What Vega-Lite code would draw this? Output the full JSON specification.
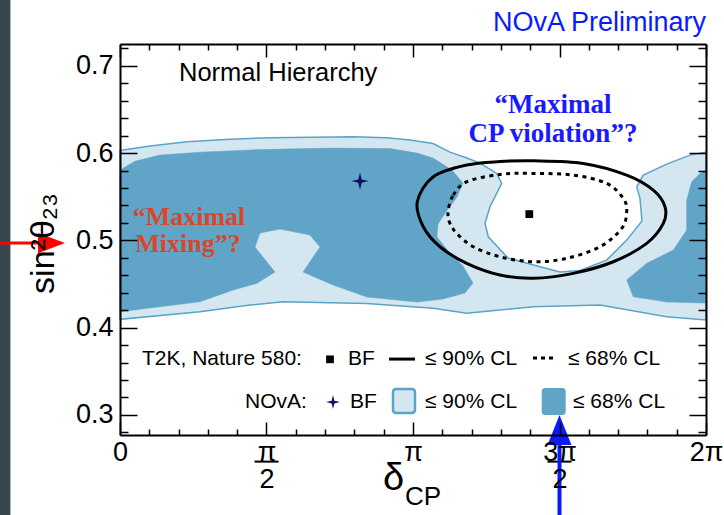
{
  "$schema": "https://vega.github.io/schema/vega-lite/v6.json",
  "width": 586,
  "height": 391,
  "autosize": {"type": "none"},
  "padding": {"left": 120, "top": 44, "right": 18, "bottom": 80},
  "background": "white",
  "config": {"view": {"stroke": null}, "font": "Liberation Sans"},
  "datasets": {
    "nova90": [
      {"x":0,"y":0.6029},{"x":0.3217,"y":0.608},{"x":0.7152,"y":0.6129},{"x":1.1794,"y":0.616},{"x":1.6083,"y":0.6175},{"x":2.4982,"y":0.6187},{"x":2.8596,"y":0.6175},{"x":3.1094,"y":0.6149},{"x":3.356,"y":0.6109},{"x":3.5383,"y":0.6011},{"x":3.7205,"y":0.5943},{"x":3.8599,"y":0.5885},{"x":4.039,"y":0.5767},{"x":4.0926,"y":0.5653},{"x":3.9671,"y":0.5385},{"x":3.9135,"y":0.5195},{"x":3.9489,"y":0.5041},{"x":4.1601,"y":0.4797},{"x":4.4314,"y":0.4717},{"x":4.7177,"y":0.4637},{"x":4.9321,"y":0.4654},{"x":5.2184,"y":0.4774},{"x":5.4328,"y":0.5003},{"x":5.5969,"y":0.5221},{"x":5.5754,"y":0.5481},{"x":5.5401,"y":0.5614},{"x":5.6108,"y":0.5748},{"x":5.8617,"y":0.5874},{"x":6.1115,"y":0.5977},{"x":6.2832,"y":0.6011},{"x":6.2832,"y":0.4087},{"x":5.8617,"y":0.4125},{"x":5.1466,"y":0.4259},{"x":4.4314,"y":0.4239},{"x":3.7173,"y":0.4164},{"x":3.3592,"y":0.4221},{"x":2.6451,"y":0.4278},{"x":1.7477,"y":0.4297},{"x":1.3939,"y":0.4259},{"x":0.8578,"y":0.4182},{"x":0,"y":0.4095}
    ],
    "nova68": [
      {"part":"L","x":0,"y":0.5805},{"part":"L","x":0.1608,"y":0.5908},{"part":"L","x":0.4289,"y":0.5977},{"part":"L","x":0.8578,"y":0.6011},{"part":"L","x":1.5011,"y":0.604},{"part":"L","x":2.2516,"y":0.6057},{"part":"L","x":2.8949,"y":0.6052},{"part":"L","x":3.1844,"y":0.6},{"part":"L","x":3.356,"y":0.5943},{"part":"L","x":3.5597,"y":0.5805},{"part":"L","x":3.6776,"y":0.5656},{"part":"L","x":3.6133,"y":0.5496},{"part":"L","x":3.4954,"y":0.5324},{"part":"L","x":3.4096,"y":0.5187},{"part":"L","x":3.3989,"y":0.5038},{"part":"L","x":3.5275,"y":0.4866},{"part":"L","x":3.6776,"y":0.4706},{"part":"L","x":3.7849,"y":0.4511},{"part":"L","x":3.6991,"y":0.4396},{"part":"L","x":3.4632,"y":0.4328},{"part":"L","x":3.1844,"y":0.4293},{"part":"L","x":2.6483,"y":0.435},{"part":"L","x":2.2838,"y":0.4488},{"part":"L","x":1.9621,"y":0.4637},{"part":"L","x":2.1444,"y":0.4923},{"part":"L","x":2.0372,"y":0.5061},{"part":"L","x":1.7155,"y":0.5129},{"part":"L","x":1.5011,"y":0.5084},{"part":"L","x":1.4475,"y":0.4923},{"part":"L","x":1.6619,"y":0.4637},{"part":"L","x":1.4657,"y":0.4507},{"part":"L","x":1.2148,"y":0.4431},{"part":"L","x":0.8578,"y":0.4297},{"part":"L","x":0,"y":0.4182},
      {"part":"R","x":6.2832,"y":0.5805},{"part":"R","x":6.2188,"y":0.5767},{"part":"R","x":6.1297,"y":0.5671},{"part":"R","x":6.0761,"y":0.5462},{"part":"R","x":6.0761,"y":0.5118},{"part":"R","x":5.9325,"y":0.4889},{"part":"R","x":5.6473,"y":0.4737},{"part":"R","x":5.4328,"y":0.4545},{"part":"R","x":5.5036,"y":0.4354},{"part":"R","x":5.8649,"y":0.4293},{"part":"R","x":6.2832,"y":0.4282}
    ],
    "t2k90": [
      {"x":3.1877,"y":0.5442},{"x":3.3592,"y":0.5729},{"x":3.7173,"y":0.5863},{"x":4.0744,"y":0.5903},{"x":4.4314,"y":0.5912},{"x":4.9675,"y":0.5882},{"x":5.4328,"y":0.5748},{"x":5.7181,"y":0.5576},{"x":5.8435,"y":0.5385},{"x":5.8253,"y":0.5195},{"x":5.6473,"y":0.4966},{"x":5.2892,"y":0.4755},{"x":4.8603,"y":0.4622},{"x":4.4314,"y":0.4565},{"x":4.0744,"y":0.4603},{"x":3.7173,"y":0.4737},{"x":3.431,"y":0.4927},{"x":3.252,"y":0.5156}
    ],
    "t2k68": [
      {"x":3.52,"y":0.5347},{"x":3.5736,"y":0.5519},{"x":3.7173,"y":0.5671},{"x":4.0744,"y":0.5756},{"x":4.4314,"y":0.5767},{"x":4.8603,"y":0.5748},{"x":5.2184,"y":0.5653},{"x":5.3964,"y":0.5481},{"x":5.4328,"y":0.5328},{"x":5.3792,"y":0.5137},{"x":5.1466,"y":0.4927},{"x":4.7895,"y":0.4794},{"x":4.4314,"y":0.4755},{"x":4.0744,"y":0.4812},{"x":3.7881,"y":0.4927},{"x":3.6101,"y":0.508},{"x":3.5307,"y":0.5213}
    ],
    "legendText": [
      {"x":0.2359,"y":0.364,"t":"T2K, Nature 580:"},{"x":2.4446,"y":0.364,"t":"BF"},{"x":3.2702,"y":0.364,"t":"≤ 90% CL"},{"x":4.8035,"y":0.364,"t":"≤ 68% CL"},
      {"x":1.3403,"y":0.3148,"t":"NOvA:"},{"x":2.4661,"y":0.3148,"t":"BF"},{"x":3.2702,"y":0.3148,"t":"≤ 90% CL"},{"x":4.8571,"y":0.3148,"t":"≤ 68% CL"}
    ]
  },
  "layer": [
    {
      "data": {"values": [{"x": -1.35, "x2": -1.175, "y": 0.15, "y2": 0.8}]},
      "mark": {"type": "rect", "fill": "#37474f"},
      "encoding": {
        "x": {"field": "x", "type": "quantitative", "scale": {"domain": [0, 6.2831853], "nice": false, "zero": false}, "axis": null},
        "x2": {"field": "x2"},
        "y": {"field": "y", "type": "quantitative", "scale": {"domain": [0.277, 0.725], "nice": false, "zero": false}, "axis": null},
        "y2": {"field": "y2"}
      }
    },
    {
      "data": {"name": "nova90"},
      "mark": {"type": "line", "interpolate": "linear-closed", "fill": "#d4e7f0", "stroke": "#5aa4c8", "strokeWidth": 1.5},
      "encoding": {
        "x": {"field": "x", "type": "quantitative", "scale": {"domain": [0, 6.2831853], "nice": false, "zero": false},
          "axis": {"orient": "bottom", "values": [0, 1.5707963, 3.1415927, 4.712389, 6.2831853], "tickSize": -13, "tickWidth": 1.5, "tickColor": "#000", "labelPadding": 17, "labelFont": "Liberation Sans", "labelFontSize": 27, "labelColor": "#000", "labelLineHeight": 27, "labelBaseline": "top", "labelFlush": false, "labelOverlap": false, "labelBound": false,
            "labelExpr": "datum.value < 0.5 ? '0' : datum.value < 2 ? ['π','2'] : datum.value < 4 ? 'π' : datum.value < 5.5 ? ['3π','2'] : '2π'",
            "domain": true, "domainColor": "#000", "domainWidth": 2, "grid": false, "title": null, "zindex": 1}},
        "y": {"field": "y", "type": "quantitative", "scale": {"domain": [0.277, 0.725], "nice": false, "zero": false},
          "axis": {"orient": "left", "values": [0.3, 0.4, 0.5, 0.6, 0.7], "format": ".1f", "tickSize": -17, "tickWidth": 1.5, "tickColor": "#000", "labelPadding": 24, "labelFont": "Liberation Sans", "labelFontSize": 27, "labelColor": "#000", "labelFlush": false, "labelOverlap": false,
            "domain": true, "domainColor": "#000", "domainWidth": 2, "grid": false,
            "title": "sin²θ₂₃", "titleFont": "Liberation Sans", "titleFontSize": 34, "titleFontWeight": "normal", "titleColor": "#000", "titleX": -60, "titleY": 199, "titleAngle": 270, "titleAlign": "center", "titleBaseline": "bottom", "zindex": 1}},
        "order": {"value": null}
      }
    },
    {
      "data": {"name": "nova68"},
      "mark": {"type": "line", "interpolate": "linear-closed", "fill": "#60a5c7", "stroke": "#60a5c7", "strokeWidth": 0.5},
      "encoding": {
        "x": {"field": "x", "type": "quantitative", "scale": {"domain": [0, 6.2831853], "nice": false, "zero": false},
          "axis": {"orient": "top", "values": [0, 1.5707963, 3.1415927, 4.712389, 6.2831853], "tickSize": -13, "tickWidth": 1.5, "tickColor": "#000", "labels": false, "domain": true, "domainColor": "#000", "domainWidth": 2, "grid": false, "title": null, "zindex": 1}},
        "y": {"field": "y", "type": "quantitative", "scale": {"domain": [0.277, 0.725], "nice": false, "zero": false},
          "axis": {"orient": "right", "values": [0.3, 0.4, 0.5, 0.6, 0.7], "tickSize": -17, "tickWidth": 1.5, "tickColor": "#000", "labels": false, "domain": true, "domainColor": "#000", "domainWidth": 2, "grid": false, "title": null, "zindex": 1}},
        "detail": {"field": "part"},
        "order": {"value": null}
      }
    },
    {
      "data": {"name": "t2k90"},
      "mark": {"type": "line", "interpolate": "cardinal-closed", "stroke": "#000", "strokeWidth": 3},
      "encoding": {
        "x": {"field": "x", "type": "quantitative", "scale": {"domain": [0, 6.2831853], "nice": false, "zero": false},
          "axis": {"orient": "bottom", "values": [0.3141593, 0.6283185, 0.9424778, 1.2566371, 1.8849556, 2.1991149, 2.5132741, 2.8274334, 3.4557519, 3.7699112, 4.0840704, 4.3982297, 5.0265482, 5.3407075, 5.6548668, 5.969026], "tickSize": -6, "tickWidth": 1.5, "tickColor": "#000", "labels": false, "domain": false, "grid": false, "title": null, "zindex": 1}},
        "y": {"field": "y", "type": "quantitative", "scale": {"domain": [0.277, 0.725], "nice": false, "zero": false},
          "axis": {"orient": "left", "values": [0.28, 0.32, 0.34, 0.36, 0.38, 0.42, 0.44, 0.46, 0.48, 0.52, 0.54, 0.56, 0.58, 0.62, 0.64, 0.66, 0.68, 0.72], "tickSize": -8, "tickWidth": 1.5, "tickColor": "#000", "labels": false, "domain": false, "grid": false, "title": null, "zindex": 1}},
        "order": {"value": null}
      }
    },
    {
      "data": {"name": "t2k68"},
      "mark": {"type": "line", "interpolate": "cardinal-closed", "stroke": "#000", "strokeWidth": 3, "strokeDash": [4, 4.5]},
      "encoding": {
        "x": {"field": "x", "type": "quantitative", "scale": {"domain": [0, 6.2831853], "nice": false, "zero": false},
          "axis": {"orient": "top", "values": [0.3141593, 0.6283185, 0.9424778, 1.2566371, 1.8849556, 2.1991149, 2.5132741, 2.8274334, 3.4557519, 3.7699112, 4.0840704, 4.3982297, 5.0265482, 5.3407075, 5.6548668, 5.969026], "tickSize": -6, "tickWidth": 1.5, "tickColor": "#000", "labels": false, "domain": false, "grid": false, "title": null, "zindex": 1}},
        "y": {"field": "y", "type": "quantitative", "scale": {"domain": [0.277, 0.725], "nice": false, "zero": false},
          "axis": {"orient": "right", "values": [0.28, 0.32, 0.34, 0.36, 0.38, 0.42, 0.44, 0.46, 0.48, 0.52, 0.54, 0.56, 0.58, 0.62, 0.64, 0.66, 0.68, 0.72], "tickSize": -8, "tickWidth": 1.5, "tickColor": "#000", "labels": false, "domain": false, "grid": false, "title": null, "zindex": 1}},
        "order": {"value": null}
      }
    },
    {
      "data": {"values": [{"x": 4.3885, "y": 0.5301}, {"x": 2.2516, "y": 0.3637}]},
      "mark": {"type": "point", "shape": "square", "filled": true, "fill": "#000", "size": 60, "opacity": 1},
      "encoding": {
        "x": {"field": "x", "type": "quantitative", "scale": {"domain": [0, 6.2831853], "nice": false, "zero": false}, "axis": null},
        "y": {"field": "y", "type": "quantitative", "scale": {"domain": [0.277, 0.725], "nice": false, "zero": false}, "axis": null}
      }
    },
    {
      "data": {"values": [{"x": 2.5733, "y": 0.5679, "s": "plot"}, {"x": 2.2838, "y": 0.3148, "s": "legend"}]},
      "mark": {"type": "point", "shape": "M0,-1L0.2,-0.2L1,0L0.2,0.2L0,1L-0.2,0.2L-1,0L-0.2,-0.2Z", "filled": true, "fill": "#10105e", "opacity": 1},
      "encoding": {
        "x": {"field": "x", "type": "quantitative", "scale": {"domain": [0, 6.2831853], "nice": false, "zero": false}, "axis": null},
        "y": {"field": "y", "type": "quantitative", "scale": {"domain": [0.277, 0.725], "nice": false, "zero": false}, "axis": null},
        "size": {"field": "s", "type": "nominal", "scale": {"domain": ["plot", "legend"], "range": [300, 190]}, "legend": null}
      }
    },
    {
      "data": {"values": [{"x": 2.8842, "x2": 3.163, "y": 0.364}]},
      "mark": {"type": "rule", "stroke": "#000", "strokeWidth": 3},
      "encoding": {
        "x": {"field": "x", "type": "quantitative", "scale": {"domain": [0, 6.2831853], "nice": false, "zero": false}, "axis": null},
        "x2": {"field": "x2"},
        "y": {"field": "y", "type": "quantitative", "scale": {"domain": [0.277, 0.725], "nice": false, "zero": false}, "axis": null}
      }
    },
    {
      "data": {"values": [{"x": 4.4282, "x2": 4.6426, "y": 0.3652}]},
      "mark": {"type": "rule", "stroke": "#000", "strokeWidth": 3, "strokeDash": [4, 4]},
      "encoding": {
        "x": {"field": "x", "type": "quantitative", "scale": {"domain": [0, 6.2831853], "nice": false, "zero": false}, "axis": null},
        "x2": {"field": "x2"},
        "y": {"field": "y", "type": "quantitative", "scale": {"domain": [0.277, 0.725], "nice": false, "zero": false}, "axis": null}
      }
    },
    {
      "data": {"values": [{"x": 2.9271, "x2": 3.163, "y": 0.3022, "y2": 0.3297}]},
      "mark": {"type": "rect", "fill": "#d4e7f0", "stroke": "#5aa4c8", "strokeWidth": 2.5, "cornerRadius": 3},
      "encoding": {
        "x": {"field": "x", "type": "quantitative", "scale": {"domain": [0, 6.2831853], "nice": false, "zero": false}, "axis": null},
        "x2": {"field": "x2"},
        "y": {"field": "y", "type": "quantitative", "scale": {"domain": [0.277, 0.725], "nice": false, "zero": false}, "axis": null},
        "y2": {"field": "y2"}
      }
    },
    {
      "data": {"values": [{"x": 4.5215, "x2": 4.7788, "y": 0.2999, "y2": 0.3308}]},
      "mark": {"type": "rect", "fill": "#60a5c7", "cornerRadius": 3},
      "encoding": {
        "x": {"field": "x", "type": "quantitative", "scale": {"domain": [0, 6.2831853], "nice": false, "zero": false}, "axis": null},
        "x2": {"field": "x2"},
        "y": {"field": "y", "type": "quantitative", "scale": {"domain": [0.277, 0.725], "nice": false, "zero": false}, "axis": null},
        "y2": {"field": "y2"}
      }
    },
    {
      "data": {"name": "legendText"},
      "mark": {"type": "text", "align": "left", "baseline": "middle", "font": "Liberation Sans", "fontSize": 21, "fill": "#000"},
      "encoding": {
        "x": {"field": "x", "type": "quantitative", "scale": {"domain": [0, 6.2831853], "nice": false, "zero": false}, "axis": null},
        "y": {"field": "y", "type": "quantitative", "scale": {"domain": [0.277, 0.725], "nice": false, "zero": false}, "axis": null},
        "text": {"field": "t"}
      }
    },
    {
      "data": {"values": [{"x": 0.6326, "y": 0.6916, "t": "Normal Hierarchy"}]},
      "mark": {"type": "text", "align": "left", "baseline": "middle", "font": "Liberation Sans", "fontSize": 25.5, "fill": "#000"},
      "encoding": {
        "x": {"field": "x", "type": "quantitative", "scale": {"domain": [0, 6.2831853], "nice": false, "zero": false}, "axis": null},
        "y": {"field": "y", "type": "quantitative", "scale": {"domain": [0.277, 0.725], "nice": false, "zero": false}, "axis": null},
        "text": {"field": "t"}
      }
    },
    {
      "data": {"values": [{"x": 6.2832, "y": 0.7398, "t": "NOvA Preliminary"}]},
      "mark": {"type": "text", "align": "right", "baseline": "alphabetic", "font": "Liberation Sans", "fontSize": 27, "fill": "#0a1aff"},
      "encoding": {
        "x": {"field": "x", "type": "quantitative", "scale": {"domain": [0, 6.2831853], "nice": false, "zero": false}, "axis": null},
        "y": {"field": "y", "type": "quantitative", "scale": {"domain": [0.277, 0.725], "nice": false, "zero": false}, "axis": null},
        "text": {"field": "t"}
      }
    },
    {
      "data": {"values": [{"x": 4.6426, "y": 0.655, "t": "“Maximal"}, {"x": 4.6426, "y": 0.6218, "t": "CP violation”?"}]},
      "mark": {"type": "text", "align": "center", "baseline": "middle", "font": "Liberation Serif", "fontWeight": "bold", "fontSize": 27, "fill": "#1a1aff"},
      "encoding": {
        "x": {"field": "x", "type": "quantitative", "scale": {"domain": [0, 6.2831853], "nice": false, "zero": false}, "axis": null},
        "y": {"field": "y", "type": "quantitative", "scale": {"domain": [0.277, 0.725], "nice": false, "zero": false}, "axis": null},
        "text": {"field": "t"}
      }
    },
    {
      "data": {"values": [{"x": 0.7398, "y": 0.5265, "t": "“Maximal"}, {"x": 0.7291, "y": 0.4955, "t": "Mixing”?"}]},
      "mark": {"type": "text", "align": "center", "baseline": "middle", "font": "Liberation Serif", "fontWeight": "bold", "fontSize": 26, "fill": "#d8472c"},
      "encoding": {
        "x": {"field": "x", "type": "quantitative", "scale": {"domain": [0, 6.2831853], "nice": false, "zero": false}, "axis": null},
        "y": {"field": "y", "type": "quantitative", "scale": {"domain": [0.277, 0.725], "nice": false, "zero": false}, "axis": null},
        "text": {"field": "t"}
      }
    },
    {
      "data": {"values": [{"x": 1.5708, "y": 0.2465}, {"x": 4.7124, "y": 0.2465}]},
      "mark": {"type": "tick", "orient": "horizontal", "size": 24, "thickness": 2, "color": "#000", "opacity": 1},
      "encoding": {
        "x": {"field": "x", "type": "quantitative", "scale": {"domain": [0, 6.2831853], "nice": false, "zero": false}, "axis": null},
        "y": {"field": "y", "type": "quantitative", "scale": {"domain": [0.277, 0.725], "nice": false, "zero": false}, "axis": null}
      }
    },
    {
      "data": {"values": [{"x": 2.8199, "y": 0.214, "t": "δ"}]},
      "mark": {"type": "text", "align": "left", "baseline": "alphabetic", "font": "Liberation Sans", "fontSize": 38, "fill": "#000"},
      "encoding": {
        "x": {"field": "x", "type": "quantitative", "scale": {"domain": [0, 6.2831853], "nice": false, "zero": false}, "axis": null},
        "y": {"field": "y", "type": "quantitative", "scale": {"domain": [0.277, 0.725], "nice": false, "zero": false}, "axis": null},
        "text": {"field": "t"}
      }
    },
    {
      "data": {"values": [{"x": 3.0558, "y": 0.1968, "t": "CP"}]},
      "mark": {"type": "text", "align": "left", "baseline": "alphabetic", "font": "Liberation Sans", "fontSize": 26, "fill": "#000"},
      "encoding": {
        "x": {"field": "x", "type": "quantitative", "scale": {"domain": [0, 6.2831853], "nice": false, "zero": false}, "axis": null},
        "y": {"field": "y", "type": "quantitative", "scale": {"domain": [0.277, 0.725], "nice": false, "zero": false}, "axis": null},
        "text": {"field": "t"}
      }
    },
    {
      "data": {"values": [{"x": -1.35, "x2": -0.8578, "y": 0.4969}]},
      "mark": {"type": "rule", "stroke": "#ff0000", "strokeWidth": 3},
      "encoding": {
        "x": {"field": "x", "type": "quantitative", "scale": {"domain": [0, 6.2831853], "nice": false, "zero": false}, "axis": null},
        "x2": {"field": "x2"},
        "y": {"field": "y", "type": "quantitative", "scale": {"domain": [0.277, 0.725], "nice": false, "zero": false}, "axis": null}
      }
    },
    {
      "data": {"values": [{"x": -0.7345, "y": 0.4969}]},
      "mark": {"type": "point", "shape": "M-1,-0.75L1,0L-1,0.75Z", "size": 729, "filled": true, "fill": "#ff0000", "opacity": 1},
      "encoding": {
        "x": {"field": "x", "type": "quantitative", "scale": {"domain": [0, 6.2831853], "nice": false, "zero": false}, "axis": null},
        "y": {"field": "y", "type": "quantitative", "scale": {"domain": [0.277, 0.725], "nice": false, "zero": false}, "axis": null}
      }
    },
    {
      "data": {"values": [{"x": 4.7124, "y": 0.17, "y2": 0.2655}]},
      "mark": {"type": "rule", "stroke": "#0a1aff", "strokeWidth": 4},
      "encoding": {
        "x": {"field": "x", "type": "quantitative", "scale": {"domain": [0, 6.2831853], "nice": false, "zero": false}, "axis": null},
        "y": {"field": "y", "type": "quantitative", "scale": {"domain": [0.277, 0.725], "nice": false, "zero": false}, "axis": null},
        "y2": {"field": "y2"}
      }
    },
    {
      "data": {"values": [{"x": 4.7124, "y": 0.2827}]},
      "mark": {"type": "point", "shape": "M-0.8,1L0,-1L0.8,1Z", "size": 900, "filled": true, "fill": "#0a1aff", "opacity": 1},
      "encoding": {
        "x": {"field": "x", "type": "quantitative", "scale": {"domain": [0, 6.2831853], "nice": false, "zero": false}, "axis": null},
        "y": {"field": "y", "type": "quantitative", "scale": {"domain": [0.277, 0.725], "nice": false, "zero": false}, "axis": null}
      }
    }
  ],
  "resolve": {"axis": {"x": "independent", "y": "independent"}}
}
